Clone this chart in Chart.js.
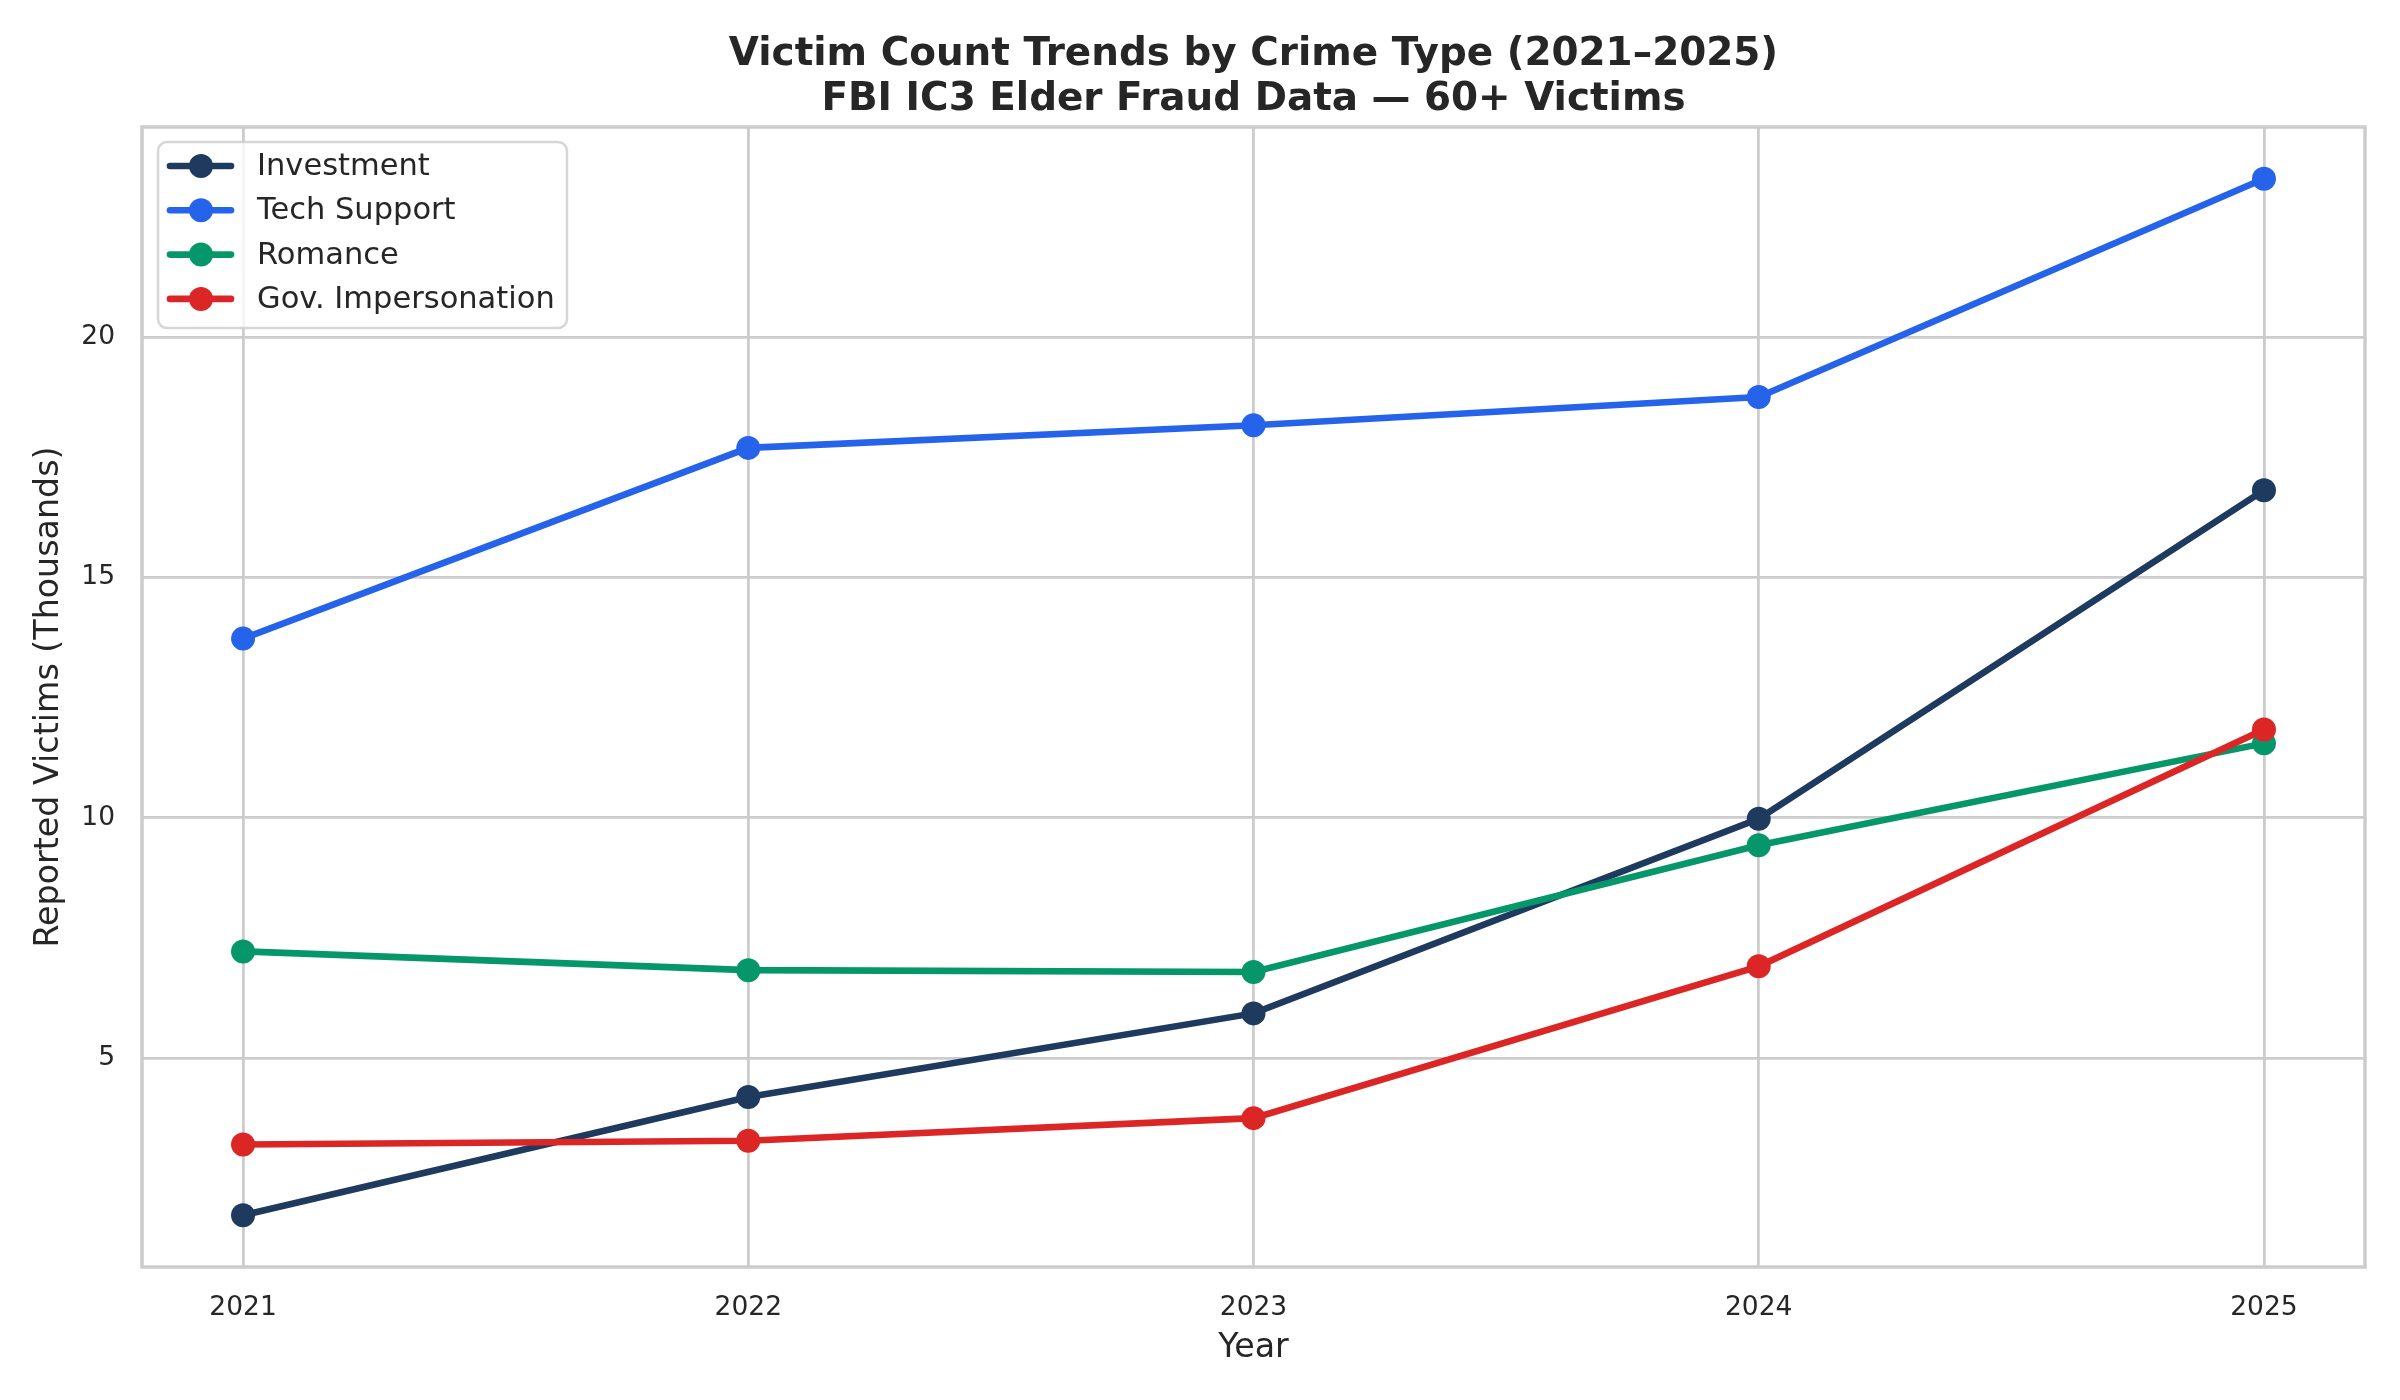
<!DOCTYPE html>
<html>
<head>
<meta charset="utf-8">
<script src="https://cdn.jsdelivr.net/npm/chart.js@4.4.1/dist/chart.umd.min.js"></script>
<style>
  body { margin: 0; background: #fff; }
  #wrap { width: 2400px; height: 1400px; }
</style>
</head>
<body>
<div id="wrap"><canvas id="mycanvas" width="2400" height="1400"></canvas></div>
<script>
var years = [2021, 2022, 2023, 2024, 2025];
var investment = [1.73, 4.19, 5.93, 9.98, 16.82];
var techSupport = [13.73, 17.70, 18.17, 18.76, 23.30];
var romance = [7.22, 6.83, 6.79, 9.43, 11.55];
var govImpersonation = [3.20, 3.28, 3.75, 6.91, 11.84];
var seriesNames = ['Investment', 'Tech Support', 'Romance', 'Gov. Impersonation'];
var yTicks = [5, 10, 15, 20];
var titleLines = ['Victim Count Trends by Crime Type (2021\u20132025)', 'FBI IC3 Elder Fraud Data \u2014 60+ Victims'];

var colors = ['#1e3a5f', '#2563eb', '#059669', '#dc2626'];
var allSeries = [investment, techSupport, romance, govImpersonation];

// matplotlib style 5% margins
var all = [].concat(investment, techSupport, romance, govImpersonation);
var yLo = Math.min.apply(null, all), yHi = Math.max.apply(null, all);
var yPad = (yHi - yLo) * 0.05;
var xPad = (years[years.length - 1] - years[0]) * 0.05;

var FONT = "'DejaVu Sans', sans-serif";
var TEXT = '#262626';
var GRID = '#cccccc';
var LW = 6.6;

function toPoints(vals) {
	return vals.map(function(v, i) { return {x: years[i], y: v}; });
}

var datasets = allSeries.map(function(vals, i) {
	return {
		label: seriesNames[i],
		data: toPoints(vals),
		borderColor: colors[i],
		backgroundColor: colors[i],
		borderWidth: LW,
		pointRadius: 12,
		pointHoverRadius: 12,
		pointBorderWidth: 0,
		pointBackgroundColor: colors[i],
		tension: 0,
		order: allSeries.length - i
	};
});

// axes frame (all four spines)
var frame = {
	id: 'frame',
	beforeDatasetsDraw: function(chart) {
		var a = chart.chartArea, c = chart.ctx;
		c.save();
		c.strokeStyle = GRID;
		c.lineWidth = 3.5;
		c.strokeRect(a.left, a.top, a.right - a.left, a.bottom - a.top);
		c.restore();
	}
};

// title centred over the plot area, like matplotlib
var plotTitle = {
	id: 'plotTitle',
	afterDraw: function(chart) {
		var a = chart.chartArea, c = chart.ctx;
		c.save();
		c.font = 'bold 38.9px ' + FONT;
		c.fillStyle = TEXT;
		c.textAlign = 'center';
		c.textBaseline = 'middle';
		var cx = (a.left + a.right) / 2;
		titleLines.forEach(function(t, i) {
			c.fillText(t, cx, 55 + i * 44.5);
		});
		c.restore();
	}
};

var legendBox = {
	id: 'legendBox',
	afterDraw: function(chart) {
		var c = chart.ctx;
		var x = 158, y = 142, w = 409, h = 186, r = 9;
		c.save();
		c.beginPath();
		c.moveTo(x + r, y);
		c.arcTo(x + w, y, x + w, y + h, r);
		c.arcTo(x + w, y + h, x, y + h, r);
		c.arcTo(x, y + h, x, y, r);
		c.arcTo(x, y, x + w, y, r);
		c.closePath();
		c.fillStyle = 'rgba(255,255,255,0.8)';
		c.fill();
		c.strokeStyle = 'rgba(204,204,204,0.8)';
		c.lineWidth = 2.5;
		c.stroke();
		c.font = '30.5px ' + FONT;
		c.textBaseline = 'middle';
		c.textAlign = 'left';
		chart.data.datasets.forEach(function(ds, i) {
			var ry = 166 + i * 44.3;
			c.strokeStyle = ds.borderColor;
			c.lineWidth = LW;
			c.lineCap = 'round';
			c.beginPath();
			c.moveTo(170, ry);
			c.lineTo(231, ry);
			c.stroke();
			c.fillStyle = ds.borderColor;
			c.beginPath();
			c.arc(201, ry, 12, 0, Math.PI * 2);
			c.fill();
			c.fillStyle = TEXT;
			c.fillText(ds.label, 257, ry + 1);
		});
		c.restore();
	}
};

var ctx = document.getElementById('mycanvas');
var lineGraph = new Chart(ctx, {
	type: 'line',
	data: { datasets: datasets },
	plugins: [frame, plotTitle, legendBox],
	options: {
		responsive: false,
		animation: false,
		devicePixelRatio: 1,
		layout: { padding: { left: 0, right: 35, top: 127, bottom: 0 } },
		plugins: {
			legend: { display: false },
			tooltip: { enabled: false },
			title: { display: false }
		},
		scales: {
			x: {
				type: 'linear',
				min: years[0] - xPad,
				max: years[years.length - 1] + xPad,
				afterBuildTicks: function(scale) {
					scale.ticks = years.map(function(v) { return {value: v}; });
				},
				afterFit: function(scale) { scale.height = 133; },
				ticks: {
					color: TEXT,
					font: { family: FONT, size: 26.5 },
					padding: 25,
					maxRotation: 0,
					callback: function(v) { return String(v); }
				},
				grid: { color: GRID, lineWidth: 2.8, drawTicks: false },
				border: { display: false },
				title: {
					display: true,
					text: 'Year',
					color: TEXT,
					font: { family: FONT, size: 33.3, lineHeight: 1.2 },
					padding: { top: 0, bottom: 32 }
				}
			},
			y: {
				type: 'linear',
				min: yLo - yPad,
				max: yHi + yPad,
				afterBuildTicks: function(scale) {
					scale.ticks = yTicks.map(function(v) { return {value: v}; });
				},
				afterFit: function(scale) { scale.width = 142; },
				ticks: {
					color: TEXT,
					font: { family: FONT, size: 26.5 },
					padding: 27,
					callback: function(v) { return String(v); }
				},
				grid: { color: GRID, lineWidth: 2.8, drawTicks: false },
				border: { display: false },
				title: {
					display: true,
					text: 'Reported Victims (Thousands)',
					color: TEXT,
					font: { family: FONT, size: 33.3, lineHeight: 1.2 },
					padding: { top: 29, bottom: 0 }
				}
			}
		}
	}
});
</script>
</body>
</html>
